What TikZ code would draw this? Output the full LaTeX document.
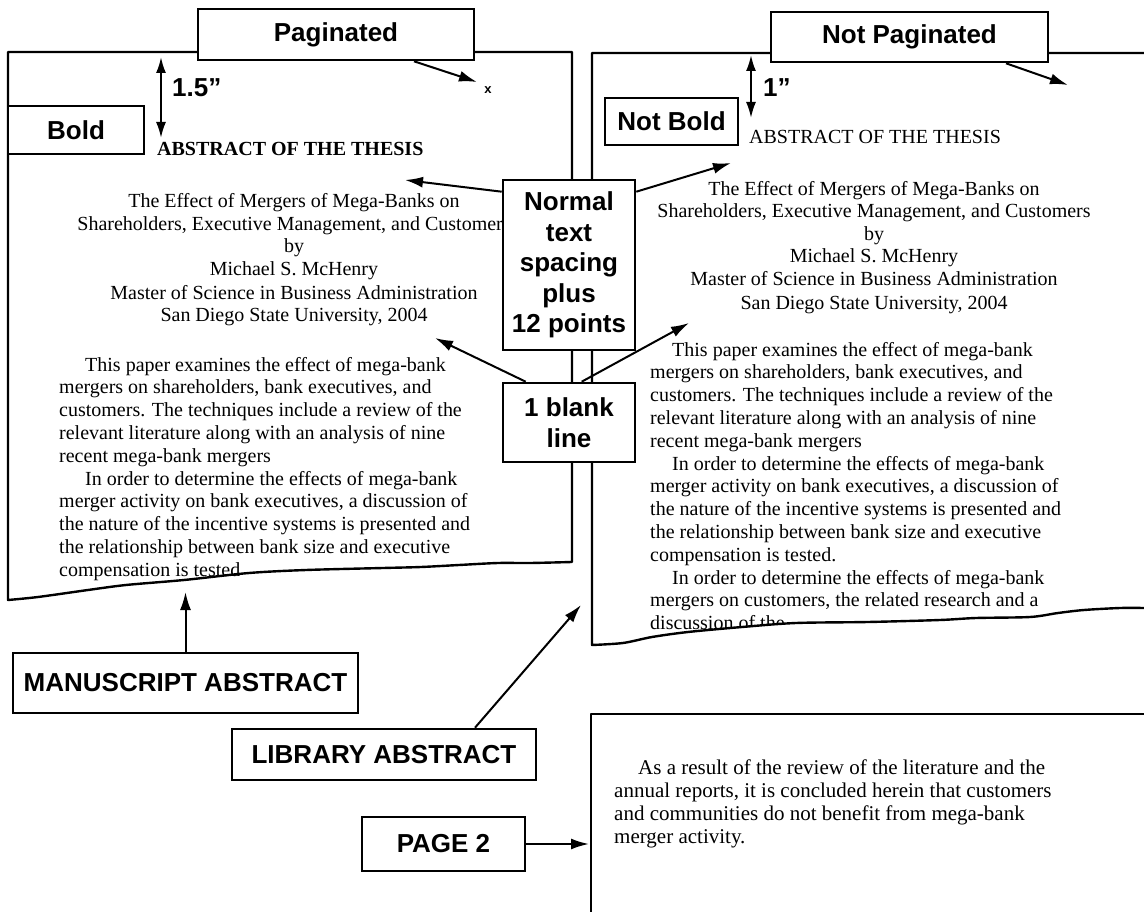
\documentclass[tikz,border=0pt]{standalone}
\usepackage{fontspec}
\setmainfont{Liberation Serif}
\setsansfont{Liberation Sans}
\usetikzlibrary{arrows.meta}

\def\lead{22.8}
\tikzstyle{callout} = [draw, line width=2.6pt, fill=white, inner sep=0pt, align=center, font=\sffamily\bfseries\fontsize{26}{30.5}\selectfont]
\tikzstyle{note} = [inner sep=0pt, anchor=west, font=\sffamily\bfseries\fontsize{26}{30.5}\selectfont]
\tikzstyle{sheet} = [draw, line width=2.4pt, line join=round]
\tikzstyle{pointer} = [draw, line width=2pt, -{Latex[length=18pt,width=11pt]}]
\tikzstyle{measure} = [draw, line width=2pt, {Latex[length=16pt,width=10pt]}-{Latex[length=16pt,width=10pt]}]
\tikzstyle{body} = [inner sep=0pt, anchor=base, font=\fontsize{20}{22.8}\selectfont]
\tikzstyle{body left} = [body, anchor=base west]

\begin{document}
\begin{tikzpicture}[x=1pt, y=-1pt]
       \useasboundingbox (0,0) rectangle (1144,912);
       % left sheet (manuscript)
       \node[body left, font=\bfseries\fontsize{20}{22.8}\selectfont] (headL) at (157,156) {ABSTRACT OF THE THESIS};
       \foreach \y/\txt [count=\i] in {208/The Effect of Mergers of Mega-Banks on, {231/Shareholders, Executive Management, and Customers}, 253/by, 276/Michael S. McHenry, 299/Master of Science in Business Administration, {321/San Diego State University, 2004}} {
           \node[body] (tl\i) at (294,\y) {\txt};
       }
       \foreach \x/\txt [count=\i] in {85/This paper examines the effect of mega-bank, {59/mergers on shareholders, bank executives, and}, 59/customers. The techniques include a review of the, 59/relevant literature along with an analysis of nine, 59/recent mega-bank mergers, 85/In order to determine the effects of mega-bank, {59/merger activity on bank executives, a discussion of}, 59/the nature of the incentive systems is presented and, 59/the relationship between bank size and executive, 59/compensation is tested} {
           \node[body left] (pl\i) at (\x,{371+(\i-1)*\lead}) {\txt};
       }
       % right sheet (library)
       \node[body left] (headR) at (749,144) {ABSTRACT OF THE THESIS};
       \foreach \y/\txt [count=\i] in {196/The Effect of Mergers of Mega-Banks on, {218/Shareholders, Executive Management, and Customers}, 241/by, 263/Michael S. McHenry, 286/Master of Science in Business Administration, {309/San Diego State University, 2004}} {
           \node[body] (tr\i) at (874,\y) {\txt};
       }
       \foreach \x/\txt [count=\i] in {672/This paper examines the effect of mega-bank, {650/mergers on shareholders, bank executives, and}, 650/customers. The techniques include a review of the, 650/relevant literature along with an analysis of nine, 650/recent mega-bank mergers, 672/In order to determine the effects of mega-bank, {650/merger activity on bank executives, a discussion of}, 650/the nature of the incentive systems is presented and, 650/the relationship between bank size and executive, 650/compensation is tested., 672/In order to determine the effects of mega-bank, {650/mergers on customers, the related research and a}, 650/discussion of the} {
           \node[body left] (pr\i) at (\x,{356+(\i-1)*\lead}) {\txt};
       }
       % page 2
       \foreach \x/\txt [count=\i] in {638/As a result of the review of the literature and the, {614/annual reports, it is concluded herein that customers}, 614/and communities do not benefit from mega-bank, 614/merger activity.} {
           \node[body left, font=\fontsize{21}{23}\selectfont] (p2\i) at (\x,{774+(\i-1)*23}) {\txt};
       }
       % torn edges and sheet outlines
       \fill[white] (592,645) -- plot[smooth] coordinates {(592,645) (623,643) (652,637) (688,632) (742,627) (796,623) (868,622) (940,620) (976,618) (1030,617) (1058,613) (1084,610) (1120,608) (1144,608)} -- (1144,700) -- (592,700) -- cycle;
       \path[sheet] (8,52) -- (572,52) -- (572,562) -- plot[smooth] coordinates {(572,562) (530,563) (498,563) (459,565) (421,567) (383,568) (306,570) (249,573) (184,580) (126,585) (88,590) (38,597) (8,600)} -- cycle;
       \path[sheet] (1144,53) -- (592,53) -- (592,645) -- plot[smooth] coordinates {(592,645) (623,643) (652,637) (688,632) (742,627) (796,623) (868,622) (940,620) (976,618) (1030,617) (1058,613) (1084,610) (1120,608) (1144,608)};
       \path[sheet] (591,912) -- (591,714) -- (1144,714);
       % labels
       \node[callout, minimum width=276pt, minimum height=51pt] (pag) at (336,34.5) {Paginated};
       \node[callout, minimum width=277pt, minimum height=50pt] (npag) at (909.5,37) {Not Paginated};
       \node[callout, minimum width=136pt, minimum height=48pt] (bold) at (76,130) {Bold};
       \node[callout, minimum width=133pt, minimum height=47pt] (nbold) at (671.5,121.5) {Not Bold};
       \node[callout, minimum width=132pt, minimum height=170pt] (norm) at (569,265) {Normal\\text\\spacing\\plus\\12 points};
       \node[callout, minimum width=132pt, minimum height=79pt] (blank) at (569,422.5) {1 blank\\line};
       \node[callout, minimum width=345pt, minimum height=60pt] (manu) at (185.5,683) {MANUSCRIPT ABSTRACT};
       \node[callout, minimum width=304pt, minimum height=51pt] (lib) at (384,754.5) {LIBRARY ABSTRACT};
       \node[callout, minimum width=163pt, minimum height=54pt] (pg2) at (443.5,844) {PAGE 2};
       \node[note] (m15) at (172,88) {1.5”};
       \node[note] (m1) at (763,88) {1”};
       \node[inner sep=0pt, font=\sffamily\bfseries\fontsize{13}{13}\selectfont] (xmark) at (488,90) {x};
       % arrows
       \coordinate (top15) at (161,57);
       \coordinate (bot15) at (161,138);
       \coordinate (top1) at (751,55);
       \coordinate (bot1) at (751,118);
       \coordinate (pagtip) at (477,82);
       \coordinate (npagtip) at (1068,85);
       \coordinate (gapLtop) at (405,180);
       \coordinate (gapRtop) at (731,163);
       \coordinate (gapLmid) at (435,338);
       \coordinate (gapRmid) at (689,323);
       \coordinate (manutip) at (185.5,592);
       \coordinate (libtip) at (581,605);
       \coordinate (pg2tip) at (589,844);
       \path[measure] (top15) -- (bot15);
       \path[measure] (top1) -- (bot1);
       \path[pointer] ([xshift=78pt]pag.south) -- (pagtip);
       \path[pointer] ([xshift=96.5pt]npag.south) -- (npagtip);
       \path[pointer] ([yshift=-13pt]norm.north west) -- (gapLtop);
       \path[pointer] ([yshift=-13pt]norm.north east) -- (gapRtop);
       \path[pointer] ([xshift=24pt]blank.north west) -- (gapLmid);
       \path[pointer] ([xshift=80pt]blank.north west) -- (gapRmid);
       \path[pointer] (manu.north) -- (manutip);
       \path[pointer] ([xshift=91pt]lib.north) -- (libtip);
       \path[pointer] (pg2.east) -- (pg2tip);
\end{tikzpicture}
\end{document}
